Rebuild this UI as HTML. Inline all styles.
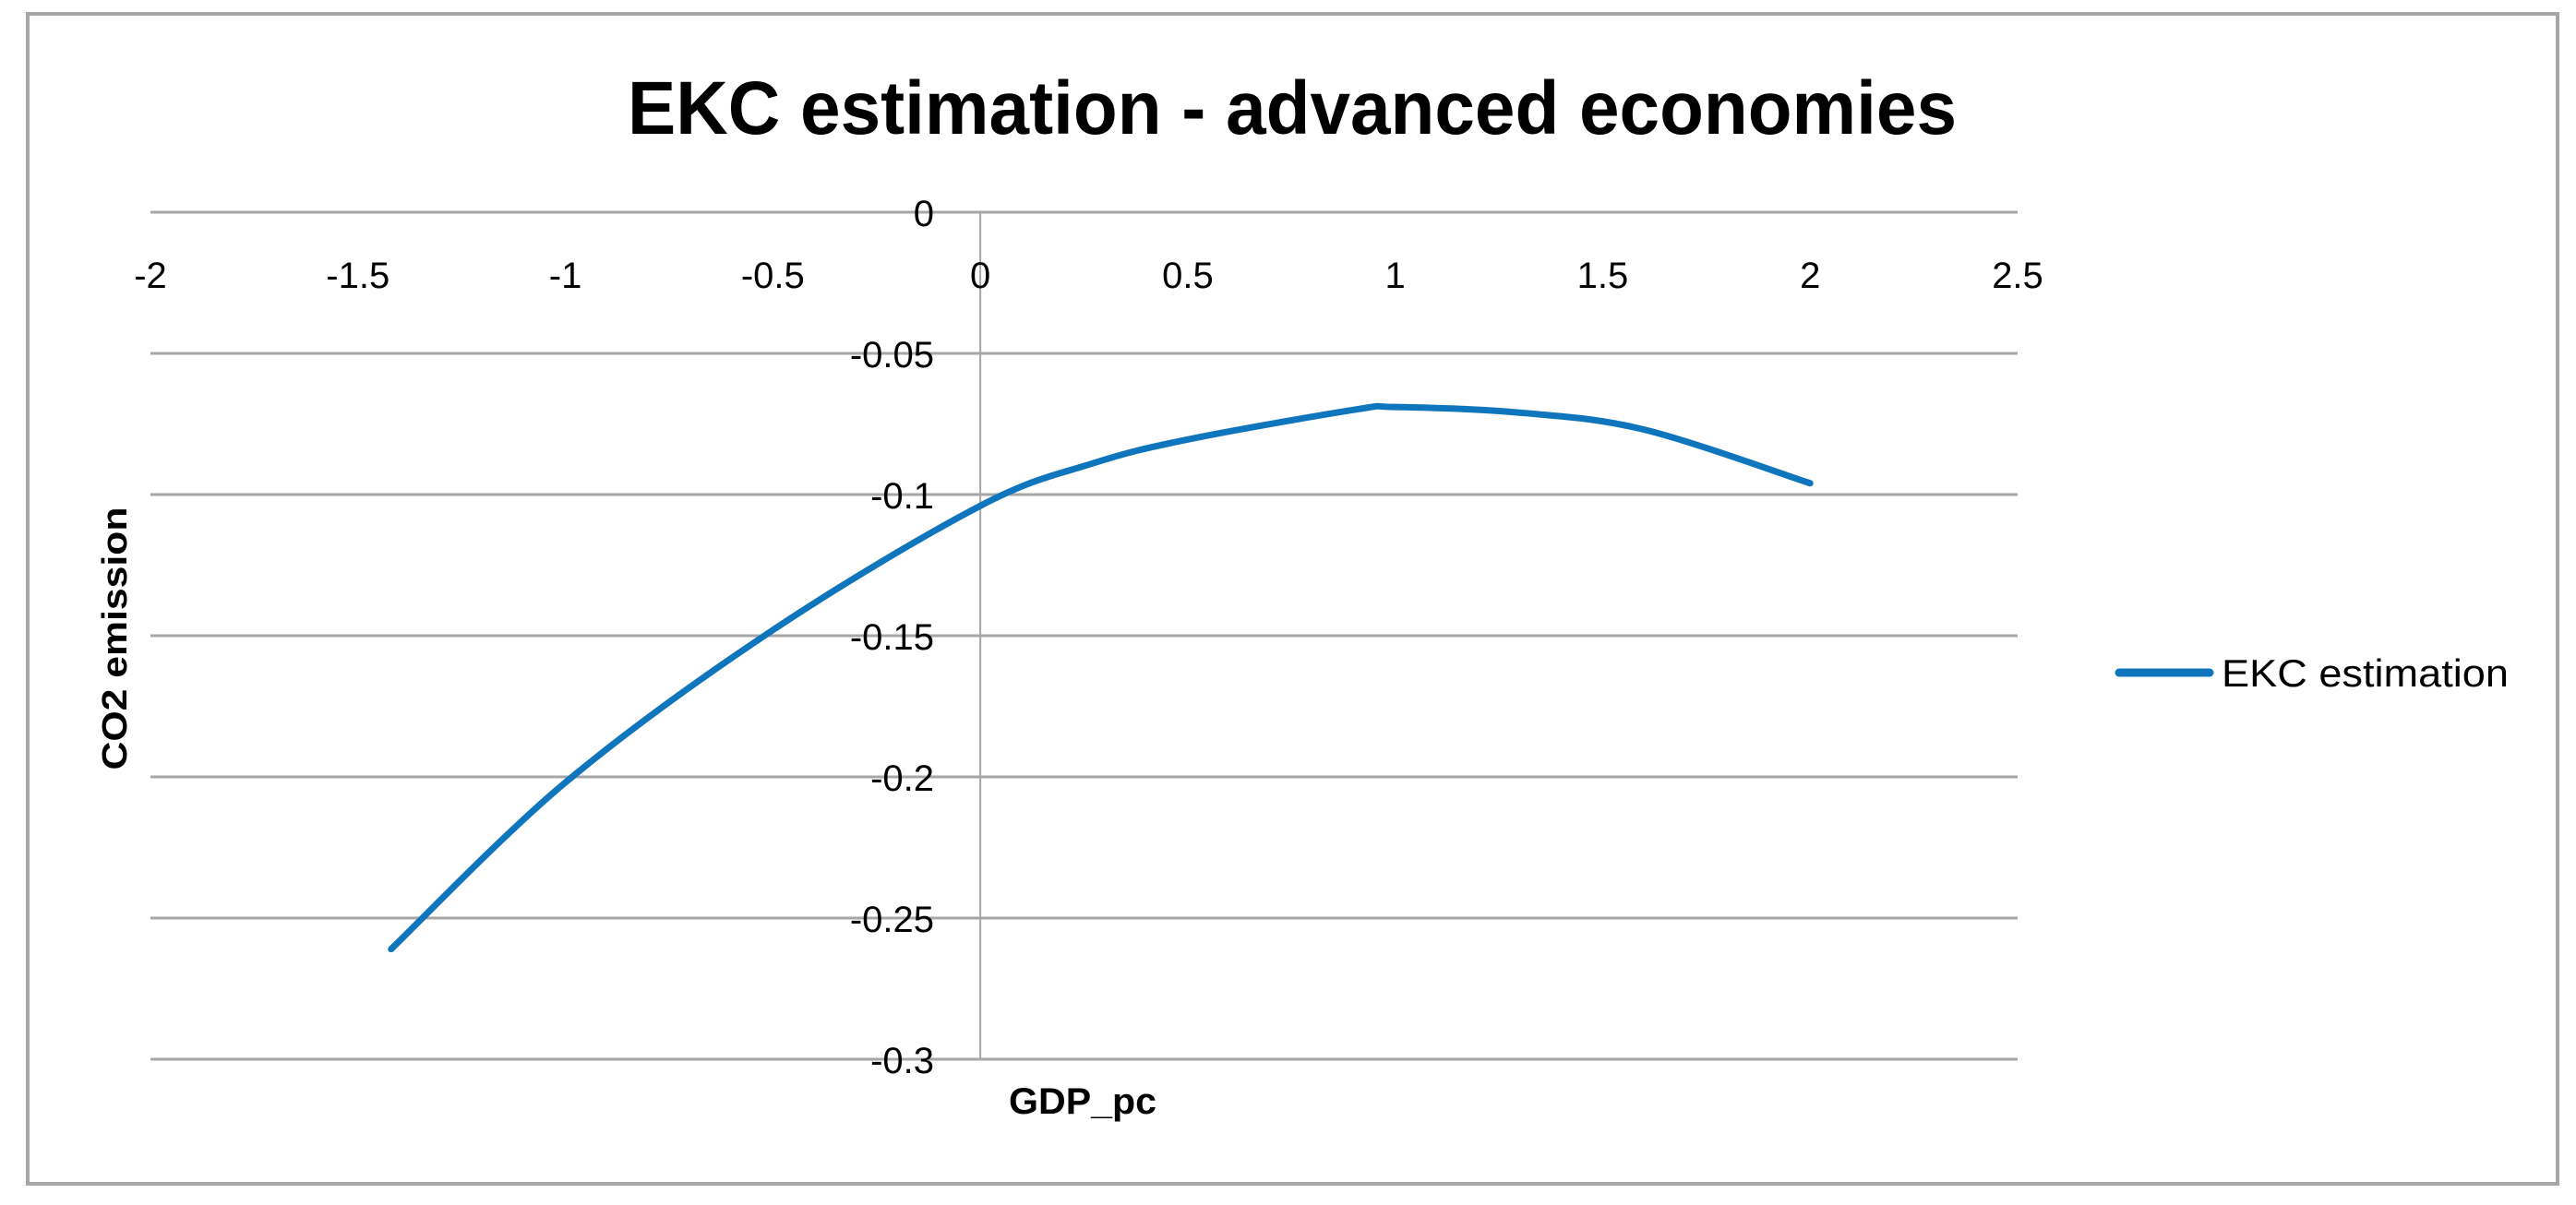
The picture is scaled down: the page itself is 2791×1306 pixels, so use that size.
<!DOCTYPE html>
<html><head><meta charset="utf-8"><style>
html,body{margin:0;padding:0;background:#fff;}
svg{display:block;}
text{font-family:"Liberation Sans",sans-serif;}
</style></head><body>
<svg id="chart" width="2791" height="1306" viewBox="0 0 2791 1306" xmlns="http://www.w3.org/2000/svg">
<rect x="30" y="15" width="2741" height="1268" fill="#fff" stroke="#a6a6a6" stroke-width="4"/>
<text x="1400" y="145" text-anchor="middle" font-size="82" font-weight="bold" fill="#000" textLength="1440" lengthAdjust="spacingAndGlyphs">EKC estimation - advanced economies</text>
<g id="grid"></g>
<g id="yticks"></g>
<g id="xticks"></g>
<g id="series"></g>
<text transform="translate(137,692) rotate(-90)" text-anchor="middle" font-size="38" font-weight="bold" fill="#000" textLength="285" lengthAdjust="spacingAndGlyphs">CO2 emission</text>
<text x="1093" y="1207" font-size="40" font-weight="bold" fill="#000" textLength="160" lengthAdjust="spacingAndGlyphs">GDP_pc</text>
<g>
<line x1="2296" y1="729" x2="2394" y2="729" stroke="#0f75bc" stroke-width="9" stroke-linecap="round"/>
<text x="2407" y="744" font-size="42" fill="#000" textLength="311" lengthAdjust="spacingAndGlyphs">EKC estimation</text>
</g>
</svg>
<script>
const xTicks = [-2, -1.5, -1, -0.5, 0, 0.5, 1, 1.5, 2, 2.5];
const xTickLabels = ["-2","-1.5","-1","-0.5","0","0.5","1","1.5","2","2.5"];
const yTicks = [0, -0.05, -0.1, -0.15, -0.2, -0.25, -0.3];
const yTickLabels = ["0","-0.05","-0.1","-0.15","-0.2","-0.25","-0.3"];
const gdpValues = [-1.42, -1, -0.5, 0, 0.27, 0.5, 0.9, 1, 1.3, 1.6, 2];
const co2Values = [-0.261, -0.202, -0.148, -0.104, -0.089, -0.0805, -0.070, -0.069, -0.071, -0.077, -0.096];

const NS = "http://www.w3.org/2000/svg";
const X0 = 163, X1 = 2186, Y0 = 230, Y1 = 1148;
function sx(v){ return X0 + (v + 2) / 4.5 * (X1 - X0); }
function sy(v){ return Y0 + (0 - v) / 0.3 * (Y1 - Y0); }
function mk(tag, attrs){ const e = document.createElementNS(NS, tag); for (const k in attrs) e.setAttribute(k, attrs[k]); return e; }

const grid = document.getElementById('grid');
yTicks.forEach((t) => {
  const l = mk('line', {x1: X0, x2: X1, y1: sy(t), y2: sy(t), stroke: '#a6a6a6', 'stroke-width': 3});
  
  
  grid.appendChild(l);
});
const ax = mk('line', {x1: sx(0), x2: sx(0), y1: Y0, y2: Y1, stroke: '#a6a6a6', 'stroke-width': 2});


grid.appendChild(ax);

const yg = document.getElementById('yticks');
yTicks.forEach((t, i) => {
  const tx = mk('text', {x: 1012, y: sy(t) + 15, 'text-anchor': 'end', 'font-size': 40, fill: '#000'});
  
  
  tx.textContent = yTickLabels[i];
  yg.appendChild(tx);
});
const xg = document.getElementById('xticks');
xTicks.forEach((t, i) => {
  const tx = mk('text', {x: sx(t), y: 312, 'text-anchor': 'middle', 'font-size': 40, fill: '#000'});
  
  
  tx.textContent = xTickLabels[i];
  xg.appendChild(tx);
});

const pts = gdpValues.map((g, i) => [sx(g), sy(co2Values[i])]);
let d = 'M' + pts[0][0] + ',' + pts[0][1];
for (let i = 0; i < pts.length - 1; i++) {
  const p0 = pts[Math.max(0, i - 1)], p1 = pts[i], p2 = pts[i + 1], p3 = pts[Math.min(pts.length - 1, i + 2)];
  const c1x = p1[0] + (p2[0] - p0[0]) / 6, c1y = p1[1] + (p2[1] - p0[1]) / 6;
  const c2x = p2[0] - (p3[0] - p1[0]) / 6, c2y = p2[1] - (p3[1] - p1[1]) / 6;
  d += ' C' + c1x + ',' + c1y + ' ' + c2x + ',' + c2y + ' ' + p2[0] + ',' + p2[1];
}
const path = mk('path', {d: d, fill: 'none', stroke: '#0f75bc', 'stroke-width': 7, 'stroke-linejoin': 'round', 'stroke-linecap': 'round'});


document.getElementById('series').appendChild(path);
</script>
</body></html>
